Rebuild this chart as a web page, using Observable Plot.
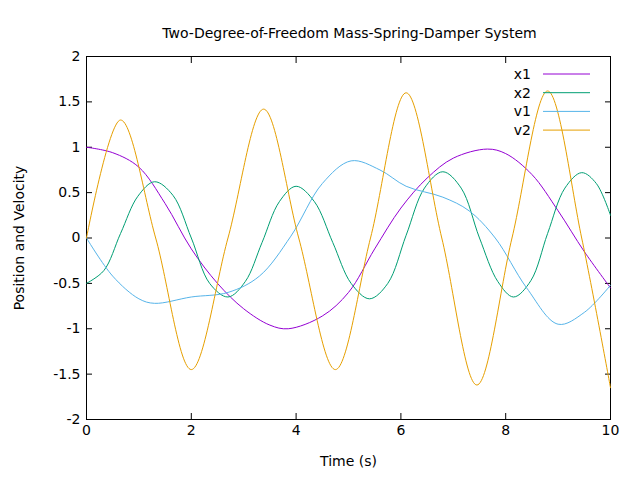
<!DOCTYPE html>
<html><head><meta charset="utf-8">
<script src="https://cdn.jsdelivr.net/npm/d3@7"></script>
<script src="https://cdn.jsdelivr.net/npm/@observablehq/plot@0.6"></script>
<style>body{margin:0;background:#fff}</style>
</head><body><div id="chart"></div>
<script>
// values
const x1T = [0, 0.5, 1, 1.5, 2, 2.5, 3, 3.5, 3.85, 4.5, 5, 5.5, 6, 6.5, 7, 7.65, 8, 8.5, 9, 9.5, 10];
const x1V = [1.0, 0.94, 0.78, 0.38, -0.12, -0.5, -0.78, -0.96, -1.0, -0.86, -0.6, -0.12, 0.33, 0.66, 0.88, 0.98, 0.93, 0.7, 0.3, -0.15, -0.55];
const x2T = [0, 0.33, 0.65, 0.98, 1.3, 1.65, 2.0, 2.35, 2.7, 3.03, 3.35, 3.68, 4.0, 4.35, 4.7, 5.05, 5.4,
  5.75, 6.1, 6.45, 6.8, 7.15, 7.5, 7.85, 8.15, 8.48, 8.8, 9.13, 9.45, 9.73, 10];
const x2V = [-0.5, -0.36, 0.05, 0.46, 0.62, 0.47, 0.0, -0.5, -0.65, -0.48, -0.05, 0.4, 0.57, 0.4, -0.05, -0.5, -0.67,
  -0.5, 0.03, 0.55, 0.73, 0.55, 0.0, -0.48, -0.65, -0.47, 0.05, 0.55, 0.72, 0.6, 0.25];
const v1T = [0, 0.5, 1.0, 1.3, 2.0, 2.7, 3.3, 3.9, 4.5, 5.05, 5.6, 6.1, 6.8, 7.3, 7.8, 8.4, 9.0, 9.5, 10];
const v1V = [0, -0.42, -0.67, -0.72, -0.65, -0.6, -0.42, 0.02, 0.6, 0.85, 0.75, 0.57, 0.45, 0.3, 0.0, -0.55, -0.95, -0.82, -0.52];
const v2T = [0, 0.65, 1.32, 2.0, 2.7, 3.38, 4.05, 4.75, 5.42, 6.1, 6.78, 7.45, 8.12, 8.8, 9.45, 10];
const v2V = [0, 1.3, 0, -1.45, 0, 1.42, 0, -1.45, 0, 1.6, 0, -1.62, 0, 1.62, 0, -1.65];
const names = ["x1", "x2", "v1", "v2"];
const colors = ["#9400d3", "#009e73", "#56b4e9", "#e69f00"];
const xTicks = [0, 2, 4, 6, 8, 10];
const yTicks = [2, 1.5, 1, 0.5, 0, -0.5, -1, -1.5, -2];

const series = [[x1T, x1V], [x2T, x2V], [v1T, v1V], [v2T, v2V]];
const rows = series.flatMap(([ts, vs], i) => ts.map((t, j) => ({t, v: vs[j], s: names[i]})));

const plot = Plot.plot({
  width: 640, height: 480,
  marginLeft: 86, marginRight: 30, marginTop: 56, marginBottom: 61,
  style: {fontFamily: "DejaVu Sans, sans-serif", fontSize: "14px", color: "#000"},
  x: {domain: [0, 10]},
  y: {domain: [-2, 2]},
  color: {domain: names, range: colors},
  marks: [
    Plot.frame({stroke: "#000"}),
    Plot.axisX({ticks: xTicks, tickSize: -6, tickPadding: 12, tickFormat: d => String(d),
      fontSize: 14, label: "Time (s)", labelAnchor: "center", labelArrow: "none", labelOffset: 46}),
    Plot.axisX({anchor: "top", ticks: xTicks, tickSize: -6, tickFormat: () => "", label: null}),
    Plot.axisY({ticks: yTicks, tickSize: -6, tickPadding: 12, tickFormat: d => String(d),
      fontSize: 14, label: "Position and Velocity", labelAnchor: "center", labelArrow: "none", labelOffset: 72}),
    Plot.axisY({anchor: "right", ticks: yTicks, tickSize: -6, tickFormat: () => "", label: null}),
    Plot.line(rows, {x: "t", y: "v", z: "s", stroke: "s", strokeWidth: 1, curve: "catmull-rom"}),
    Plot.text(["Two-Degree-of-Freedom Mass-Spring-Damper System"], {frameAnchor: "top", dy: -28, dx: 1, fontSize: 14})
  ]
});

// legend, gnuplot style top-right inside the frame
const svg = d3.select(plot);
names.forEach((n, i) => {
  const y = 74 + i * 18.7;
  svg.append("text").attr("x", 531).attr("y", y).attr("dy", "0.35em").attr("text-anchor", "end")
    .attr("font-size", 14).attr("font-family", "DejaVu Sans, sans-serif").text(n);
  svg.append("line").attr("x1", 543).attr("x2", 590).attr("y1", y).attr("y2", y)
    .attr("stroke", colors[i]).attr("stroke-width", 1);
});
document.getElementById("chart").append(plot);
</script></body></html>
